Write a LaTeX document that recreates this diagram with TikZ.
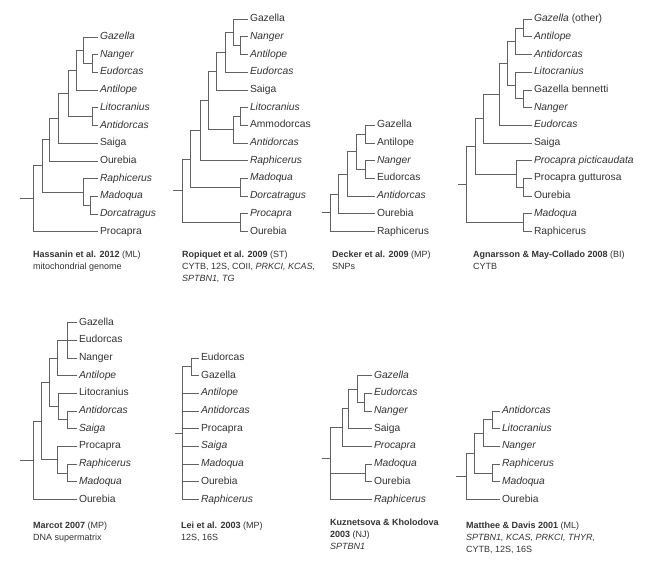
\documentclass[tikz,border=0pt]{standalone}
\usepackage{fontspec}
\setmainfont{Liberation Sans}
\usepackage{tikz}
\usetikzlibrary{calc,backgrounds}
\tikzset{
  branch/.style={draw=black!62, line width=0.75pt},
  taxon/.style={anchor=west, inner sep=1.8pt, text height=7pt, text depth=2pt,
    text=black!80, font=\fontsize{10.3}{12}\selectfont},
  genus/.style={taxon, font=\fontsize{10.3}{12}\selectfont\itshape},
  study/.style={anchor=north west, inner sep=0pt, align=left, text=black!80,
    font=\fontsize{9}{12}\selectfont},
}

\begin{document}
\begin{tikzpicture}[x=1pt, y=-1pt]
  \def\lvl{17.7}
  \useasboundingbox (0,0) rectangle (649,563);

  % Hassanin et al. 2012
  \node (h1) at (98, 37) [genus] {Gazella};
  \node (h2) at ($(h1.west) + (0,\lvl)$) [genus] {Nanger};
  \node (h3) at ($(h2.west) + (0,\lvl)$) [genus] {Eudorcas};
  \node (h4) at ($(h3.west) + (0,\lvl)$) [genus] {Antilope};
  \node (h5) at ($(h4.west) + (0,\lvl)$) [genus] {Litocranius};
  \node (h6) at ($(h5.west) + (0,\lvl)$) [genus] {Antidorcas};
  \node (h7) at ($(h6.west) + (0,\lvl)$) [taxon] {Saiga};
  \node (h8) at ($(h7.west) + (0,\lvl)$) [taxon] {Ourebia};
  \node (h9) at ($(h8.west) + (0,\lvl)$) [genus] {Raphicerus};
  \node (h10) at ($(h9.west) + (0,\lvl)$) [genus] {Madoqua};
  \node (h11) at ($(h10.west) + (0,\lvl)$) [genus] {Dorcatragus};
  \node (h12) at ($(h11.west) + (0,\lvl)$) [taxon] {Procapra};
  \coordinate (hA) at (92, 63.55);
  \coordinate (hB) at (83, 50.28);
  \coordinate (hC) at (76, 70.19);
  \coordinate (hD) at (92, 116.65);
  \coordinate (hE) at (68, 93.42);
  \coordinate (hF) at (58, 118.31);
  \coordinate (hG) at (49, 139.61);
  \coordinate (hH) at (90, 205.15);
  \coordinate (hI) at (83, 191.88);
  \coordinate (hJ) at (42, 165.74);
  \coordinate (hR) at (33, 198.72);
  \coordinate (hS) at (20, 198.72);
  \node (hcap) at (33, 251) [study] {\textbf{Hassanin et al. 2012} (ML)\\mitochondrial genome};

  % Ropiquet et al. 2009
  \node (r1) at (248, 19.1) [taxon] {Gazella};
  \node (r2) at ($(r1.west) + (0,\lvl)$) [genus] {Nanger};
  \node (r3) at ($(r2.west) + (0,\lvl)$) [genus] {Antilope};
  \node (r4) at ($(r3.west) + (0,\lvl)$) [genus] {Eudorcas};
  \node (r5) at ($(r4.west) + (0,\lvl)$) [taxon] {Saiga};
  \node (r6) at ($(r5.west) + (0,\lvl)$) [genus] {Litocranius};
  \node (r7) at ($(r6.west) + (0,\lvl)$) [taxon] {Ammodorcas};
  \node (r8) at ($(r7.west) + (0,\lvl)$) [genus] {Antidorcas};
  \node (r9) at ($(r8.west) + (0,\lvl)$) [genus] {Raphicerus};
  \node (r10) at ($(r9.west) + (0,\lvl)$) [genus] {Madoqua};
  \node (r11) at ($(r10.west) + (0,\lvl)$) [genus] {Dorcatragus};
  \node (r12) at ($(r11.west) + (0,\lvl)$) [genus] {Procapra};
  \node (r13) at ($(r12.west) + (0,\lvl)$) [taxon] {Ourebia};
  \coordinate (rA) at (240, 45.65);
  \coordinate (rB) at (233, 32.4);
  \coordinate (rC) at (225, 52.3);
  \coordinate (rD) at (216, 71.1);
  \coordinate (rE) at (240, 116.45);
  \coordinate (rF) at (233, 129.7);
  \coordinate (rG) at (208, 100.4);
  \coordinate (rH) at (200, 130.55);
  \coordinate (rI) at (240, 187.25);
  \coordinate (rJ) at (190, 158.9);
  \coordinate (rK) at (240, 222.65);
  \coordinate (rR) at (182, 190.8);
  \coordinate (rS) at (173, 190.8);
  \node (rcap) at (182, 251) [study] {\textbf{Ropiquet et al. 2009} (ST)\\CYTB, 12S, COII, \textit{PRKCI, KCAS,}\\\textit{SPTBN1, TG}};

  % Decker et al. 2009
  \node (d1) at (375, 125.3) [taxon] {Gazella};
  \node (d2) at ($(d1.west) + (0,\lvl)$) [taxon] {Antilope};
  \node (d3) at ($(d2.west) + (0,\lvl)$) [genus] {Nanger};
  \node (d4) at ($(d3.west) + (0,\lvl)$) [taxon] {Eudorcas};
  \node (d5) at ($(d4.west) + (0,\lvl)$) [genus] {Antidorcas};
  \node (d6) at ($(d5.west) + (0,\lvl)$) [taxon] {Ourebia};
  \node (d7) at ($(d6.west) + (0,\lvl)$) [taxon] {Raphicerus};
  \coordinate (dA) at (365, 134.15);
  \coordinate (dB) at (365, 169.55);
  \coordinate (dC) at (356, 151.85);
  \coordinate (dD) at (347, 173.98);
  \coordinate (dE) at (338, 193.94);
  \coordinate (dR) at (330, 212.72);
  \coordinate (dS) at (322, 212.72);
  \node (dcap) at (332, 251) [study] {\textbf{Decker et al. 2009} (MP)\\SNPs};

  % Agnarsson & May-Collado 2008
  \node (a1) at (532, 19.1) [taxon] {\textit{Gazella} (other)};
  \node (a2) at ($(a1.west) + (0,\lvl)$) [genus] {Antilope};
  \node (a3) at ($(a2.west) + (0,\lvl)$) [genus] {Antidorcas};
  \node (a4) at ($(a3.west) + (0,\lvl)$) [genus] {Litocranius};
  \node (a5) at ($(a4.west) + (0,\lvl)$) [taxon] {Gazella bennetti};
  \node (a6) at ($(a5.west) + (0,\lvl)$) [genus] {Nanger};
  \node (a7) at ($(a6.west) + (0,\lvl)$) [genus] {Eudorcas};
  \node (a8) at ($(a7.west) + (0,\lvl)$) [taxon] {Saiga};
  \node (a9) at ($(a8.west) + (0,\lvl)$) [genus] {Procapra picticaudata};
  \node (a10) at ($(a9.west) + (0,\lvl)$) [taxon] {Procapra gutturosa};
  \node (a11) at ($(a10.west) + (0,\lvl)$) [taxon] {Ourebia};
  \node (a12) at ($(a11.west) + (0,\lvl)$) [genus] {Madoqua};
  \node (a13) at ($(a12.west) + (0,\lvl)$) [taxon] {Raphicerus};
  \coordinate (aA) at (523, 27.95);
  \coordinate (aB) at (515, 41.23);
  \coordinate (aC) at (523, 98.75);
  \coordinate (aD) at (515, 85.48);
  \coordinate (aE) at (507, 63.35);
  \coordinate (aF) at (499, 94.33);
  \coordinate (aG) at (483, 118.66);
  \coordinate (aH) at (523, 187.25);
  \coordinate (aI) at (516, 173.98);
  \coordinate (aJ) at (475, 146.32);
  \coordinate (aK) at (523, 222.65);
  \coordinate (aR) at (466, 184.49);
  \coordinate (aS) at (458, 184.49);
  \node (acap) at (473, 251) [study] {\textbf{Agnarsson \& May-Collado 2008} (BI)\\CYTB};

  % Marcot 2007
  \node (m1) at (77, 322.5) [taxon] {Gazella};
  \node (m2) at ($(m1.west) + (0,\lvl)$) [taxon] {Eudorcas};
  \node (m3) at ($(m2.west) + (0,\lvl)$) [taxon] {Nanger};
  \node (m4) at ($(m3.west) + (0,\lvl)$) [genus] {Antilope};
  \node (m5) at ($(m4.west) + (0,\lvl)$) [taxon] {Litocranius};
  \node (m6) at ($(m5.west) + (0,\lvl)$) [genus] {Antidorcas};
  \node (m7) at ($(m6.west) + (0,\lvl)$) [genus] {Saiga};
  \node (m8) at ($(m7.west) + (0,\lvl)$) [taxon] {Procapra};
  \node (m9) at ($(m8.west) + (0,\lvl)$) [genus] {Raphicerus};
  \node (m10) at ($(m9.west) + (0,\lvl)$) [genus] {Madoqua};
  \node (m11) at ($(m10.west) + (0,\lvl)$) [taxon] {Ourebia};
  \coordinate (mA) at (67, 340.2);
  \coordinate (mB) at (57, 357.9);
  \coordinate (mC) at (67, 419.85);
  \coordinate (mD) at (58, 406.58);
  \coordinate (mE) at (49, 382.24);
  \coordinate (mF) at (67, 472.95);
  \coordinate (mG) at (57, 459.68);
  \coordinate (mH) at (41, 420.96);
  \coordinate (mR) at (33, 460.23);
  \coordinate (mS) at (20, 460.23);
  \node (mcap) at (33, 522) [study] {\textbf{Marcot 2007} (MP)\\DNA supermatrix};

  % Lei et al. 2003
  \node (l1) at (199, 357.9) [taxon] {Eudorcas};
  \node (l2) at ($(l1.west) + (0,\lvl)$) [taxon] {Gazella};
  \node (l3) at ($(l2.west) + (0,\lvl)$) [genus] {Antilope};
  \node (l4) at ($(l3.west) + (0,\lvl)$) [genus] {Antidorcas};
  \node (l5) at ($(l4.west) + (0,\lvl)$) [taxon] {Procapra};
  \node (l6) at ($(l5.west) + (0,\lvl)$) [genus] {Saiga};
  \node (l7) at ($(l6.west) + (0,\lvl)$) [genus] {Madoqua};
  \node (l8) at ($(l7.west) + (0,\lvl)$) [taxon] {Ourebia};
  \node (l9) at ($(l8.west) + (0,\lvl)$) [genus] {Raphicerus};
  \coordinate (lA) at (191, 366.75);
  \coordinate (lR) at (182, 433.1);
  \coordinate (lS) at (175, 433.1);
  \node (lcap) at (181, 522) [study] {\textbf{Lei et al. 2003} (MP)\\12S, 16S};

  % Kuznetsova & Kholodova 2003
  \node (k1) at (372, 375.6) [genus] {Gazella};
  \node (k2) at ($(k1.west) + (0,\lvl)$) [genus] {Eudorcas};
  \node (k3) at ($(k2.west) + (0,\lvl)$) [genus] {Nanger};
  \node (k4) at ($(k3.west) + (0,\lvl)$) [taxon] {Saiga};
  \node (k5) at ($(k4.west) + (0,\lvl)$) [genus] {Procapra};
  \node (k6) at ($(k5.west) + (0,\lvl)$) [genus] {Madoqua};
  \node (k7) at ($(k6.west) + (0,\lvl)$) [taxon] {Ourebia};
  \node (k8) at ($(k7.west) + (0,\lvl)$) [genus] {Raphicerus};
  \coordinate (kA) at (364, 402.15);
  \coordinate (kB) at (357, 388.88);
  \coordinate (kC) at (348, 408.79);
  \coordinate (kD) at (342, 427.6);
  \coordinate (kE) at (365, 472.95);
  \coordinate (kR) at (330, 458);
  \coordinate (kS) at (322, 458);
  \node (kcap) at (330, 519) [study] {\textbf{Kuznetsova \& Kholodova}\\\textbf{2003} (NJ)\\\textit{SPTBN1}};

  % Matthee & Davis 2001
  \node (t1) at (500, 411) [genus] {Antidorcas};
  \node (t2) at ($(t1.west) + (0,\lvl)$) [genus] {Litocranius};
  \node (t3) at ($(t2.west) + (0,\lvl)$) [genus] {Nanger};
  \node (t4) at ($(t3.west) + (0,\lvl)$) [genus] {Raphicerus};
  \node (t5) at ($(t4.west) + (0,\lvl)$) [genus] {Madoqua};
  \node (t6) at ($(t5.west) + (0,\lvl)$) [taxon] {Ourebia};
  \coordinate (tA) at (492, 419.85);
  \coordinate (tB) at (483, 433.13);
  \coordinate (tC) at (492, 472.95);
  \coordinate (tD) at (474, 453.04);
  \coordinate (tR) at (466, 476.27);
  \coordinate (tS) at (456, 476.27);
  \node (tcap) at (466, 522) [study] {\textbf{Matthee \& Davis 2001} (ML)\\\textit{SPTBN1, KCAS, PRKCI, THYR,}\\CYTB, 12S, 16S};

  \begin{scope}[on background layer]
    \foreach \p/\c in {hA/h2, hA/h3, hB/h1, hB/hA, hC/hB, hC/h4, hD/h5, hD/h6,
        hE/hC, hE/hD, hF/hE, hF/h7, hG/hF, hG/h8, hH/h10, hH/h11, hI/h9, hI/hH,
        hJ/hG, hJ/hI, hR/hJ, hR/h12}
      \draw [branch] (\p) |- (\c);
    \foreach \p/\c in {rA/r2, rA/r3, rB/r1, rB/rA, rC/rB, rC/r4, rD/rC, rD/r5,
        rE/r6, rE/r7, rF/rE, rF/r8, rG/rD, rG/rF, rH/rG, rH/r9, rI/r10, rI/r11,
        rJ/rH, rJ/rI, rK/r12, rK/r13, rR/rJ, rR/rK}
      \draw [branch] (\p) |- (\c);
    \foreach \p/\c in {dA/d1, dA/d2, dB/d3, dB/d4, dC/dA, dC/dB, dD/dC, dD/d5,
        dE/dD, dE/d6, dR/dE, dR/d7}
      \draw [branch] (\p) |- (\c);
    \foreach \p/\c in {aA/a1, aA/a2, aB/aA, aB/a3, aC/a5, aC/a6, aD/a4, aD/aC,
        aE/aB, aE/aD, aF/aE, aF/a7, aG/aF, aG/a8, aH/a10, aH/a11, aI/a9, aI/aH,
        aJ/aG, aJ/aI, aK/a12, aK/a13, aR/aJ, aR/aK}
      \draw [branch] (\p) |- (\c);
    \foreach \p/\c in {mA/m1, mA/m2, mA/m3, mB/mA, mB/m4, mC/m6, mC/m7, mD/m5,
        mD/mC, mE/mB, mE/mD, mF/m9, mF/m10, mG/m8, mG/mF, mH/mE, mH/mG,
        mR/mH, mR/m11}
      \draw [branch] (\p) |- (\c);
    \foreach \p/\c in {lA/l1, lA/l2, lR/lA, lR/l3, lR/l4, lR/l5, lR/l6, lR/l7,
        lR/l8, lR/l9}
      \draw [branch] (\p) |- (\c);
    \foreach \p/\c in {kA/k2, kA/k3, kB/k1, kB/kA, kC/kB, kC/k4, kD/kC, kD/k5,
        kE/k6, kE/k7, kR/kD, kR/kE, kR/k8}
      \draw [branch] (\p) |- (\c);
    \foreach \p/\c in {tA/t1, tA/t2, tB/tA, tB/t3, tC/t4, tC/t5, tD/tB, tD/tC,
        tR/tD, tR/t6}
      \draw [branch] (\p) |- (\c);
    % root stubs
    \foreach \t in {h, r, d, a, m, l, k, t}
      \draw [branch] (\t S) -- (\t R);
  \end{scope}
\end{tikzpicture}
\end{document}
